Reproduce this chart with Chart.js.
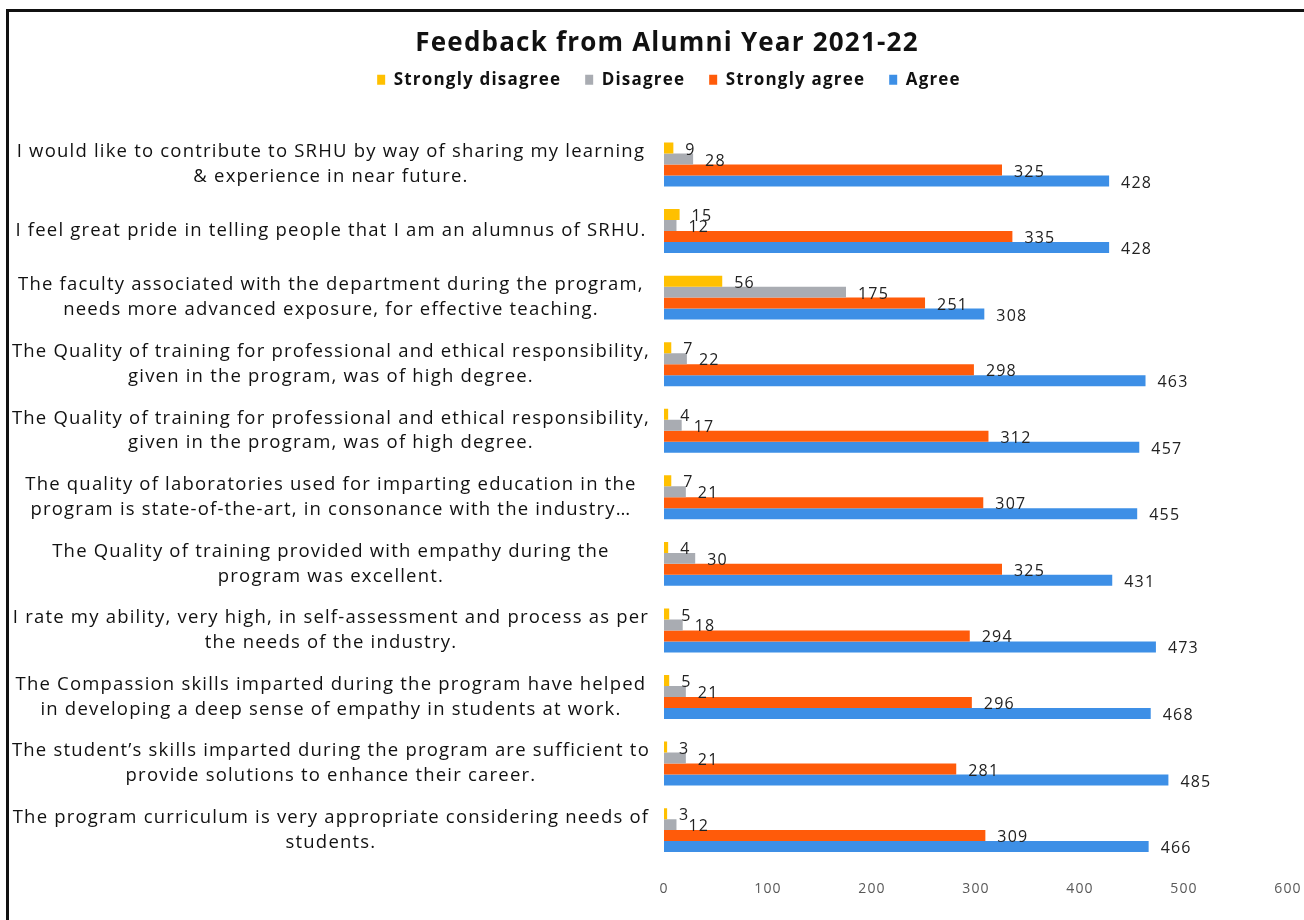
<!DOCTYPE html>
<html>
<head>
<meta charset="utf-8">
<script src="https://cdn.jsdelivr.net/npm/chart.js@4.4.1/dist/chart.umd.min.js"></script>
<style>
  html, body { margin: 0; padding: 0; background: #fff; overflow: hidden; }
  #frame {
    position: absolute; left: 6px; top: 9px; width: 1400px; height: 1000px;
    border-left: 3px solid #111; border-top: 3px solid #111;
  }
  #wrap { position: absolute; left: 10px; top: 12px; width: 1294px; height: 908px; }
</style>
</head>
<body>
<div id="frame"></div>
<div id="wrap"><canvas id="feedback" width="1294" height="908"></canvas></div>
<script>
//-----------Chart data-----------
const questions = [
  ["I would like to contribute to SRHU by way of sharing my learning", "& experience in near future."],
  ["I feel great pride in telling people that I am an alumnus of SRHU."],
  ["The faculty associated with the department during the program,", "needs more advanced exposure, for effective teaching."],
  ["The Quality of training for professional and ethical responsibility,", "given in the program, was of high degree."],
  ["The Quality of training for professional and ethical responsibility,", "given in the program, was of high degree."],
  ["The quality of laboratories used for imparting education in the", "program is state-of-the-art, in consonance with the industry…"],
  ["The Quality of training provided with empathy during the", "program was excellent."],
  ["I rate my ability, very high, in self-assessment and process as per", "the needs of the industry."],
  ["The Compassion skills imparted during the program have helped", "in developing a deep sense of empathy in students at work."],
  ["The student’s skills imparted during the program are sufficient to", "provide solutions to enhance their career."],
  ["The program curriculum is very appropriate considering needs of", "students."]
];

const stronglyDisagree = [9, 15, 56, 7, 4, 7, 4, 5, 5, 3, 3];
const disagree         = [28, 12, 175, 22, 17, 21, 30, 18, 21, 21, 12];
const stronglyAgree    = [325, 335, 251, 298, 312, 307, 325, 294, 296, 281, 309];
const agree            = [428, 428, 308, 463, 457, 455, 431, 473, 468, 485, 466];

const xTicks = [0, 100, 200, 300, 400, 500, 600];

const labelFont = "'Open Sans', 'Liberation Sans', sans-serif";

// the scanned original has loose letter spacing everywhere;
// chart.js resets the canvas, so set it again before each layout
const looseText = {
  id: 'looseText',
  beforeUpdate(chart) { chart.ctx.letterSpacing = '1.2px'; },
  beforeDraw(chart) { chart.ctx.letterSpacing = '1.2px'; }
};

// value labels drawn just past the end of each bar
const barValueLabels = {
  id: 'barValueLabels',
  afterDatasetsDraw(chart) {
    const { ctx } = chart;
    ctx.save();
    ctx.font = "16px " + labelFont;
    ctx.fillStyle = '#222';
    ctx.textAlign = 'left';
    ctx.textBaseline = 'middle';
    chart.data.datasets.forEach((ds, i) => {
      chart.getDatasetMeta(i).data.forEach((bar, j) => {
        ctx.fillText(String(ds.data[j]), bar.x + 12, bar.y + 2);
      });
    });
    ctx.restore();
  }
};

// fixed legend block height, and title + legend nudged right like the original
const headerBlocks = {
  id: 'headerBlocks',
  beforeInit(chart) {
    const fit = chart.legend.fit;
    chart.legend.fit = function () {
      fit.call(this);
      this.height = 84;
    };
  },
  afterLayout(chart) {
    chart.titleBlock.left += 18;
    chart.titleBlock.right += 18;
    chart.legend.left += 20;
    chart.legend.right += 20;
  }
};

const ctx = document.getElementById('feedback').getContext('2d');

const config = {
  type: 'bar',
  data: {
    labels: questions,
    datasets: [
      { label: 'Strongly disagree', data: stronglyDisagree, backgroundColor: '#FFC000' },
      { label: 'Disagree', data: disagree, backgroundColor: '#A9ACB2' },
      { label: 'Strongly agree', data: stronglyAgree, backgroundColor: '#FF5B0A' },
      { label: 'Agree', data: agree, backgroundColor: '#3D8FE6' }
    ]
  },
  options: {
    indexAxis: 'y',
    responsive: false,
    animation: false,
    datasets: {
      bar: { barPercentage: 1.0, categoryPercentage: 0.66 }
    },
    layout: { padding: { left: 0, right: 16, top: 0, bottom: 4.6 } },
    scales: {
      x: {
        min: 0,
        max: 600,
        afterBuildTicks: axis => { axis.ticks = xTicks.map(v => ({ value: v })); },
        afterFit: scale => { scale.paddingLeft = 0; scale.paddingRight = 0; },
        grid: { display: false, drawTicks: false },
        border: { display: false },
        ticks: {
          color: '#595959',
          padding: 17.6,
          font: { family: labelFont, size: 14 }
        }
      },
      y: {
        grid: { display: false, drawTicks: false },
        border: { display: false },
        afterFit: scale => {
          scale.width = 654;
          scale.paddingTop = 0;
          scale.paddingBottom = 0;
        },
        ticks: {
          autoSkip: false,
          crossAlign: 'center',
          padding: 14,
          color: '#111',
          font: { family: labelFont, size: 18.5, lineHeight: 1.35 }
        }
      }
    },
    plugins: {
      tooltip: { enabled: false },
      title: {
        display: true,
        text: 'Feedback from Alumni Year 2021-22',
        color: '#111',
        font: { family: labelFont, size: 26, weight: 'bold' },
        padding: { top: 16, bottom: -12 }
      },
      legend: {
        display: true,
        position: 'top',
        labels: {
          boxWidth: 8,
          boxHeight: 10,
          padding: 24,
          color: '#111',
          font: { family: labelFont, size: 17, weight: 'bold' }
        }
      }
    }
  },
  plugins: [looseText, barValueLabels, headerBlocks]
};

const feedbackChart = new Chart(ctx, config);
</script>
</body>
</html>
